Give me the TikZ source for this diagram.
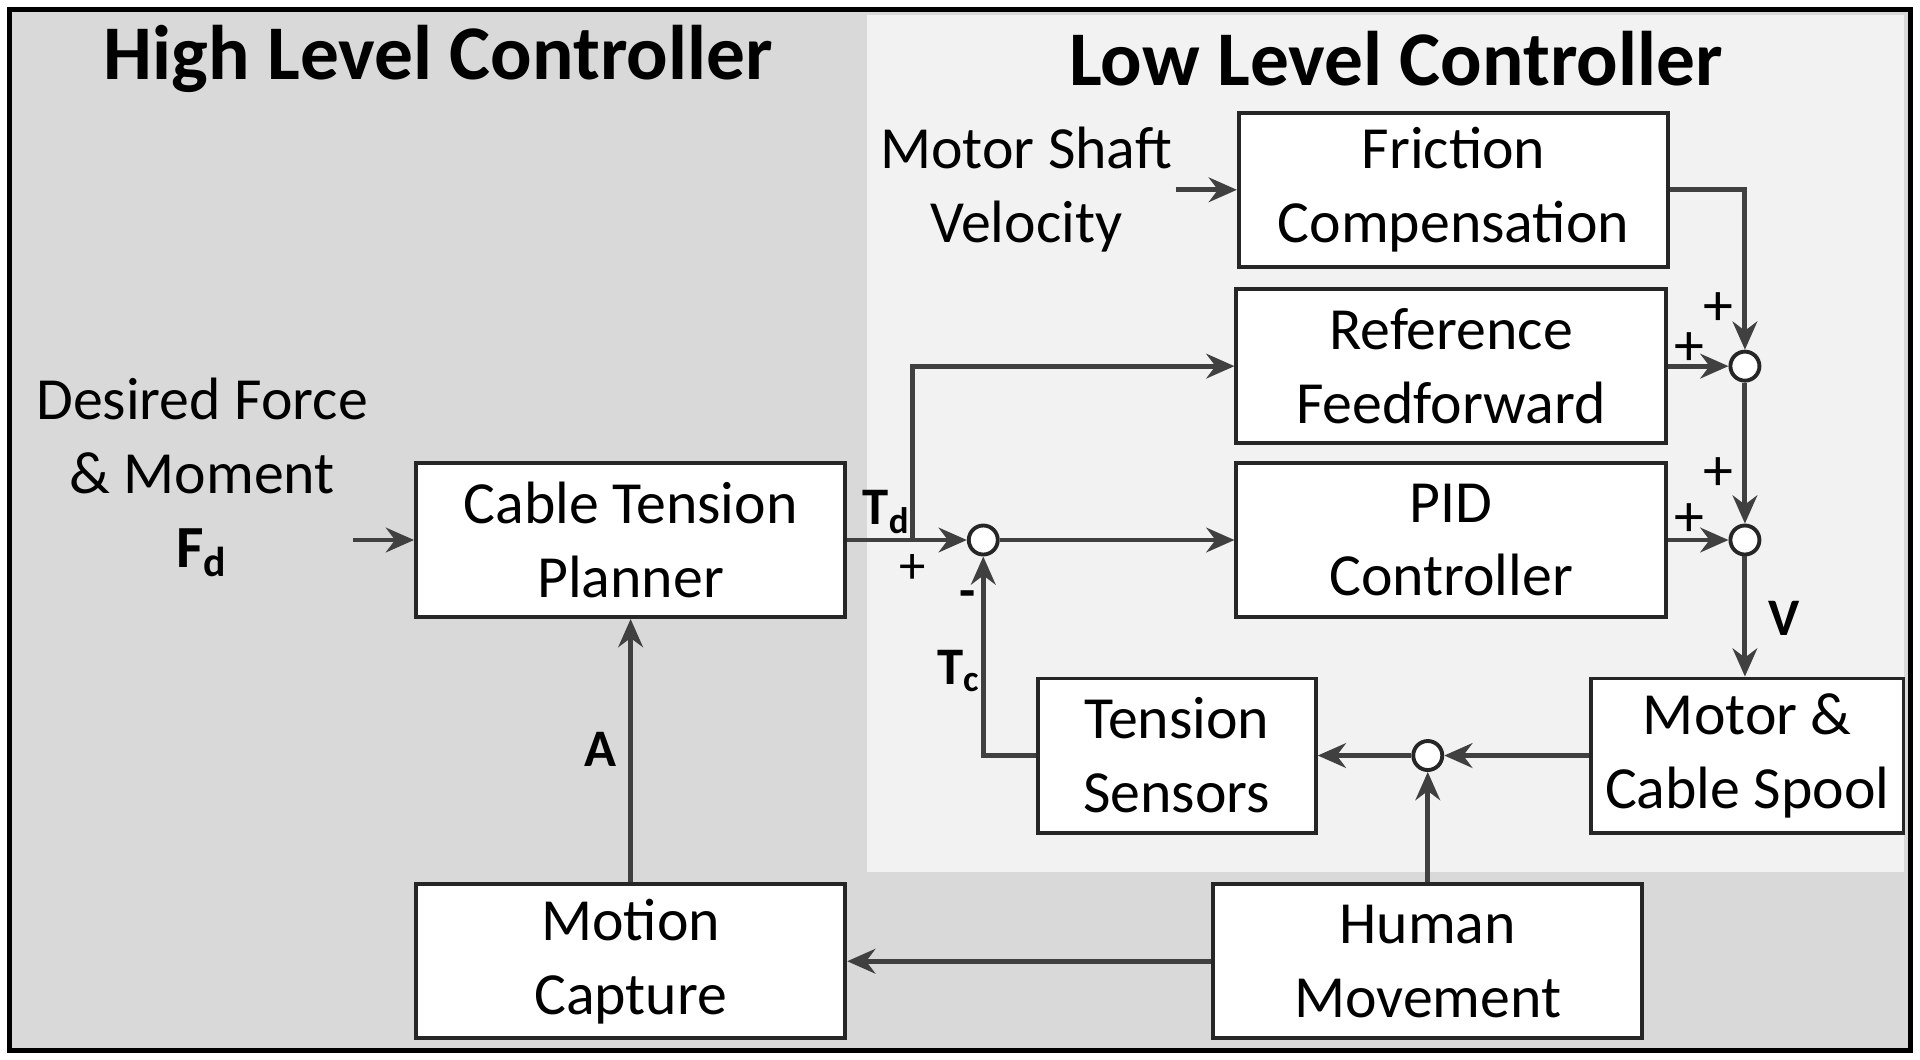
\documentclass[tikz,border=0pt]{standalone}
\usepackage{fontspec}
\setmainfont{Carlito}
\usetikzlibrary{positioning,arrows.meta}
\definecolor{DarkBg}{RGB}{217,217,217}
\definecolor{LightBg}{RGB}{242,242,242}
\definecolor{LineGray}{RGB}{64,64,64}

\begin{document}
\begin{tikzpicture}[x=0.012245cm, y=-0.012245cm]
        % Kiểu cho khối và nút cộng
        \tikzstyle{block} = [
            draw=black!85,
            fill=white,
            line width=1.1pt,
            minimum width=4.29cm,
            minimum height=1.54cm,
            align=center,
            font=\fontsize{17}{21}\selectfont
        ]
        \tikzstyle{sum} = [draw=black!85, fill=white, line width=1.1pt, circle, minimum size=0.29cm, inner sep=0pt]
        \tikzstyle{wire} = [draw=LineGray, line width=1.4pt, -{Stealth[length=8pt,width=7pt]}]
        \tikzstyle{lbl} = [font=\fontsize{15}{18}\selectfont\bfseries, inner sep=1pt]
        \tikzstyle{txt} = [font=\fontsize{17}{21}\selectfont, align=center]

        % Nền
        \fill[white] (0,0) rectangle (1568,865);
        \fill[DarkBg] (8,8) rectangle (1560,858);
        \fill[LightBg] (708,12) rectangle (1555,712);
        \draw[black, line width=1.5pt] (8,8) rectangle (1560,858);

        % Tiêu đề
        \node[font=\fontsize{22}{26}\selectfont\bfseries] (hlc) at (358,48) {High Level Controller};
        \node[font=\fontsize{22}{26}\selectfont\bfseries] (llc) at (1140,48) {Low Level Controller};

        % Các khối
        \node[block] (fric) at (1187,155) {Friction\\Compensation};
        \node[block] (ref) at (1185,299) {Reference\\Feedforward};
        \node[block] (pid) at (1185,441) {PID\\Controller};
        \node[block] (plan) at (515,441) {Cable Tension\\Planner};
        \node[block, minimum width=3.12cm] (motor) at (1427,617) {Motor \&\\Cable Spool};
        \node[block, minimum width=2.78cm] (sens) at (961,617) {Tension\\Sensors};
        \node[block] (mocap) at (515,785) {Motion\\Capture};
        \node[block] (human) at (1166,785) {Human\\Movement};

        % Nút cộng
        \node[sum] (s1) at (1425,299) {};
        \node[sum] (s2) at (1425,441) {};
        \node[sum] (s3) at (803,441) {};
        \node[sum] (s4) at (1166,617) {};

        % Văn bản đầu vào
        \node[txt] (msv) at (838,155) {Motor Shaft\\Velocity};
        \node[txt] (fd) at (165,390) {Desired Force\\\& Moment\\\textbf{F\textsubscript{d}}};
        \coordinate (msvin) at (960,155);
        \coordinate (fdin) at (288,441);
        \coordinate (br) at (745,441);

        % Kết nối
        \draw[wire] (msvin) -- (fric);
        \draw[wire] (fdin) -- (plan);
        \draw[wire] (fric.east) -| (s1.north);
        \draw[wire] (ref.east) -- (s1.west);
        \draw[wire] (s1.south) -- (s2.north);
        \draw[wire] (pid.east) -- (s2.west);
        \draw[wire] (s2.south) -- (s2.south |- motor.north);
        \draw[wire] (motor.west) -- (s4.east);
        \draw[wire] (s4.west) -- (sens.east);
        \draw[wire] (human.north) -- (s4.south);
        \draw[wire] (sens.west) -| (s3.south);
        \draw[wire] (plan.east) -- (s3.west);
        \draw[wire] (br) |- (ref.west);
        \draw[wire] (s3.east) -- (pid.west);
        \draw[wire] (human.west) -- (mocap.east);
        \draw[wire] (mocap.north) -- (plan.south);

        % Nhãn
        \node[lbl] (lv) at (1457,505) {V};
        \node[lbl] (la) at (490,612) {A};
        \node[lbl] (ltd) at (724,418) {T\textsubscript{d}};
        \node[lbl] (ltc) at (783,548) {T\textsubscript{c}};
        \node[txt, font=\fontsize{15}{18}\selectfont] (p3) at (745,465) {+};
        \node[lbl] (m3) at (790,490) {-};
        \node[txt] (p1a) at (1403,252) {+};
        \node[txt] (p1b) at (1380,285) {+};
        \node[txt] (p2a) at (1403,387) {+};
        \node[txt] (p2b) at (1380,425) {+};
    \end{tikzpicture}
\end{document}
